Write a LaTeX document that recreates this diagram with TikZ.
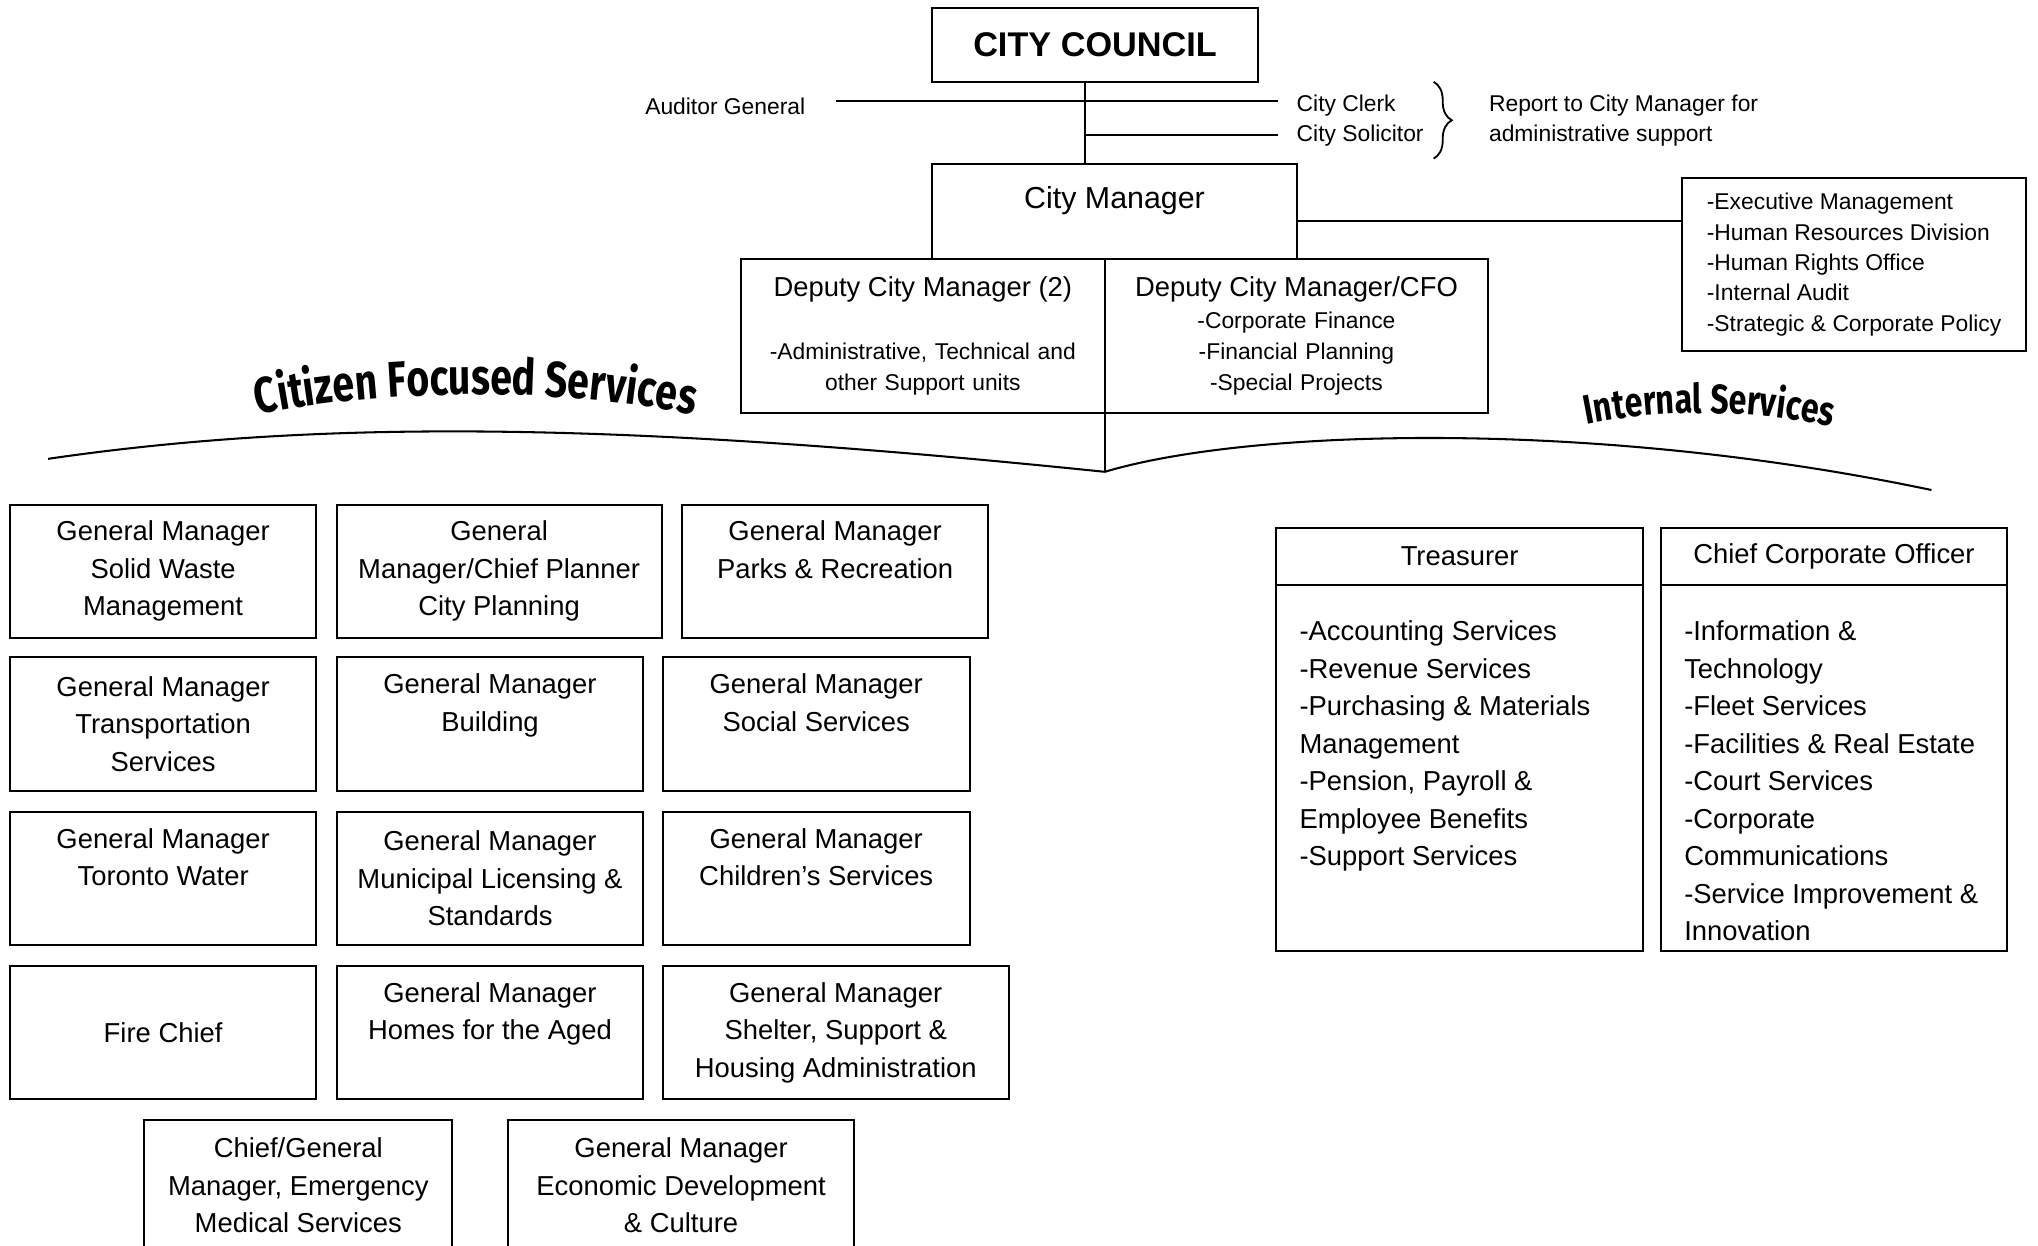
\documentclass[tikz,border=0pt]{standalone}
\usepackage{fontspec}
\setmainfont{Liberation Sans}
\newfontfamily\tagfont[FakeStretch=0.78]{Fira Sans}
\usetikzlibrary{positioning}
\usetikzlibrary{decorations.text,decorations.pathreplacing}
\newcommand\boxfont{\fontsize{12}{16.4}\selectfont}
\newcommand\smallfont{\fontsize{10}{13}\selectfont}
\newcommand\padline{\vphantom{Mg}}

\begin{document}
\begin{tikzpicture}[
            x = 0.02cm, y = -0.02cm,
            line width = 0.9pt,
            gmbox/.style = {
                draw,
                minimum width = #1,
                minimum height = 2.05cm,
                inner sep = 0pt,
                outer sep = 0pt,
                align = center,
                font = \boxfont
            },
            gmbox/.default = 4.7cm,
            items/.style = {align = left, inner sep = 0pt, font = \boxfont},
            aside/.style = {font = \smallfont},
            tag/.style = {
                decorate,
                decoration = {text along path, text align = center, text = {#1}}
            }
            ]
            \useasboundingbox (0,0) rectangle (1568,958);
            \clip (0,0) rectangle (1568,958);

            % top of the chart
            \node[gmbox=5.02cm, minimum height=1.14cm, font=\fontsize{15}{18}\selectfont\bfseries] (council) at (842.5,34.5) {CITY COUNCIL};
            \node[aside] (auditor) at (558,82) {Auditor General};
            \node[aside, anchor=west] (clerk) at (991,81) {City Clerk};
            \node[aside, anchor=west] (solicitor) at (991,104) {City Solicitor};
            \node[aside, anchor=west, align=left] (note) at (1139,93) {Report to City Manager for\\administrative support};
            \node[gmbox=5.62cm, minimum height=1.46cm, text height=9.6pt, text depth=11.8pt, font=\fontsize{13.3}{15}\selectfont] (manager) at (857.5,162.5) {City Manager};
            \node[gmbox=5.3cm, minimum height=2.66cm, align=left, font=\fontsize{10}{13.3}\selectfont] (exec) at (1426.5,203.5) {-Executive Management\\-Human Resources Division\\-Human Rights Office\\-Internal Audit\\-Strategic \& Corporate Policy};
            \node[gmbox=5.6cm, minimum height=2.38cm, text width=5.4cm, font=\fontsize{10}{13.6}\selectfont] (dcm) at (710,258.5) {{\fontsize{12}{14}\selectfont Deputy City Manager (2)}\\[13.6pt]-Administrative, Technical and\\other Support units};
            \node[gmbox=5.9cm, minimum height=2.38cm, text width=5.7cm, font=\fontsize{10}{13.6}\selectfont, right=0pt of dcm] (cfo) {{\fontsize{12}{14}\selectfont Deputy City Manager/CFO}\\-Corporate Finance\\-Financial Planning\\-Special Projects};

            \coordinate (spine) at (835,0);
            \coordinate (fork) at (850,363);
            \draw (spine |- council.south) -- (spine |- manager.north);
            \draw[shorten <=0.34cm, shorten >=0.16cm] ([yshift=0.08cm]auditor.east) -- ([yshift=0.08cm]auditor.east -| clerk.west);
            \draw[shorten >=0.16cm] (spine |- solicitor.west) -- (solicitor.west);
            \draw[decorate, decoration={brace, amplitude=0.28cm}, line width=0.8pt] (1103,63) -- (1103,122);
            \draw ([yshift=-0.15cm]manager.east) -- ([yshift=-0.15cm]manager.east -| exec.west);
            \draw (fork |- dcm.south) -- (fork);

            % the two branches
            \draw (37,353) .. controls (250,322) and (480,325) .. (fork);
            \draw (fork) .. controls (960,330) and (1225,322) .. (1486,377);
            \path[tag={|\tagfont\bfseries\fontsize{22}{22}\selectfont|Citizen Focused Services}] (170,326) .. controls (280,296) and (450,296) .. (562,326);
            \path[tag={|\tagfont\bfseries\fontsize{18}{18}\selectfont|Internal Services}] (1190,334) .. controls (1265,312) and (1365,312) .. (1440,337);

            % citizen focused services
            \node[gmbox] (waste) at (125.5,439.5) {General Manager\\Solid Waste\\Management};
            \node[gmbox=5cm] (planning) at (384,439.5) {General\\Manager/Chief Planner\\City Planning};
            \node[gmbox] (parks) at (642.5,439.5) {General Manager\\Parks \& Recreation\\\padline};
            \node[gmbox] (transport) at (125.5,557) {General Manager\\Transportation\\Services};
            \node[gmbox=4.72cm] (building) at (377,557) {General Manager\\Building\\\padline};
            \node[gmbox=4.72cm] (social) at (628,557) {General Manager\\Social Services\\\padline};
            \node[gmbox] (water) at (125.5,676) {General Manager\\Toronto Water\\\padline};
            \node[gmbox=4.72cm] (licensing) at (377,676) {General Manager\\Municipal Licensing \&\\Standards};
            \node[gmbox=4.72cm] (children) at (628,676) {General Manager\\Children’s Services\\\padline};
            \node[gmbox] (fire) at (125.5,794.5) {Fire Chief};
            \node[gmbox=4.72cm] (aged) at (377,794.5) {General Manager\\Homes for the Aged\\\padline};
            \node[gmbox=5.32cm] (shelter) at (643,794.5) {General Manager\\Shelter, Support \&\\Housing Administration};
            \node[gmbox=4.74cm, minimum height=2cm] (ems) at (229.5,912) {Chief/General\\Manager, Emergency\\Medical Services};
            \node[gmbox=5.32cm, minimum height=2cm] (economic) at (524,912) {General Manager\\Economic Development\\\& Culture};

            % internal services
            \node[gmbox=5.64cm, minimum height=0.88cm] (treasurer) at (1123,428) {Treasurer};
            \node[gmbox=5.64cm, minimum height=5.64cm, below=0pt of treasurer] (treasbody) {};
            \node[items, below right=0.54cm and 0.34cm of treasbody.north west] (treaslist) {-Accounting Services\\-Revenue Services\\-Purchasing \& Materials\\Management\\-Pension, Payroll \&\\Employee Benefits\\-Support Services};
            \node[gmbox=5.32cm, minimum height=0.88cm] (cco) at (1411,428) {Chief Corporate Officer};
            \node[gmbox=5.32cm, minimum height=5.64cm, below=0pt of cco] (ccobody) {};
            \node[items, below right=0.54cm and 0.34cm of ccobody.north west] (ccolist) {-Information \&\\Technology\\-Fleet Services\\-Facilities \& Real Estate\\-Court Services\\-Corporate\\Communications\\-Service Improvement \&\\Innovation};
        \end{tikzpicture}
\end{document}
